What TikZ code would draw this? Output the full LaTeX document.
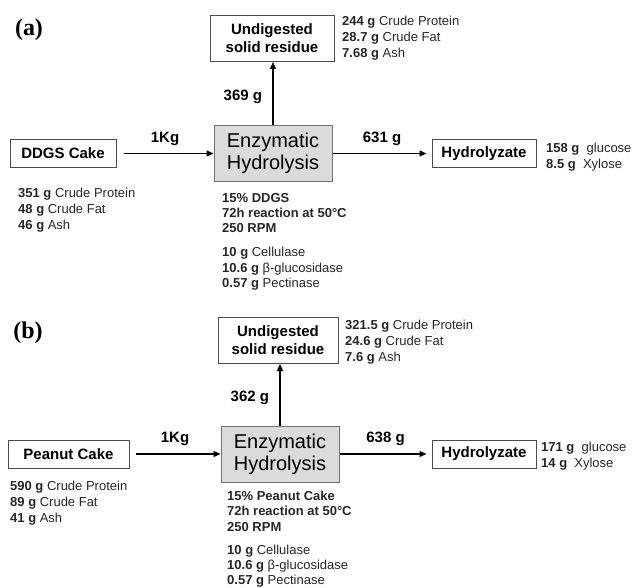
\documentclass[tikz,border=0pt]{standalone}
\usepackage{fontspec}
\setmainfont{Liberation Sans}
\newfontfamily\panelfont{Liberation Serif}
\usetikzlibrary{arrows.meta,positioning}

\begin{document}
\begin{tikzpicture}[x=1pt, y=-1pt,
  box/.style={draw=black!70, line width=1pt, align=center, inner sep=2pt,
              font=\fontsize{15}{18}\selectfont\bfseries, minimum height=28pt},
  proc/.style={draw=black!55, fill=black!14, line width=1pt, align=center, inner sep=1pt,
               font=\fontsize{20}{22}\selectfont, minimum width=118pt, minimum height=56pt},
  info/.style={anchor=north west, inner sep=0pt, align=left, text=black!85,
               font=\fontsize{13}{16}\selectfont},
  cond/.style={info, font=\fontsize{13}{15.2}\selectfont},
  flow/.style={font=\fontsize{15}{18}\selectfont\bfseries},
  panel/.style={font=\panelfont\bfseries\fontsize{24}{28}\selectfont},
  arr/.style={-{Triangle[length=7pt, width=6pt]}, line width=1.2pt}]
\useasboundingbox (0,0) rectangle (632,588);

% (a) DDGS
\node[panel] (la) at (29,30) {(a)};
\node[proc] (eh1) at (273,153.5) {Enzymatic\\Hydrolysis};
\node[box, minimum width=106pt] (ddgs) at (63,153.5) {DDGS Cake};
\node[box, minimum width=124pt, minimum height=46pt] (res1) at (272,38.5) {Undigested\\solid residue};
\node[box, minimum width=104pt] (hyd1) at (484,153.5) {Hydrolyzate};
\node[info] (res1i) at (342,16) {\textbf{244 g} Crude Protein\\\textbf{28.7 g} Crude Fat\\\textbf{7.68 g} Ash};
\node[info] (ddgsi) at (18,188) {\textbf{351 g} Crude Protein\\\textbf{48 g} Crude Fat\\\textbf{46 g} Ash};
\node[info] (hyd1i) at (546,143) {\textbf{158 g}\ \ glucose\\\textbf{8.5 g}\ \ Xylose};
\node[cond] (cond1) at (222,193) {\textbf{15\% DDGS}\\\textbf{72h reaction at 50°C}\\\textbf{250 RPM}\\[9pt]
  \textbf{10 g} Cellulase\\\textbf{10.6 g} β-glucosidase\\\textbf{0.57 g} Pectinase};
\draw[arr, shorten <=7pt] (ddgs) -- node[flow, above=4pt] {1Kg} (eh1);
\draw[arr, shorten >=5pt] (eh1) -- node[flow, above=4pt] {631 g} (hyd1);
\draw[arr] (eh1.north) -- node[flow, left=7pt, pos=0.44] {369 g} (eh1.north |- res1.south);

% (b) peanut
\node[panel] (lb) at (28,333) {(b)};
\node[proc] (eh2) at (280,454) {Enzymatic\\Hydrolysis};
\node[box, minimum width=121pt] (pea) at (68.5,454) {Peanut Cake};
\node[box, minimum width=120pt, minimum height=46pt] (res2) at (278,340.5) {Undigested\\solid residue};
\node[box, minimum width=104pt] (hyd2) at (484,454) {Hydrolyzate};
\node[info] (res2i) at (345,320) {\textbf{321.5 g} Crude Protein\\\textbf{24.6 g} Crude Fat\\\textbf{7.6 g} Ash};
\node[info] (peai) at (10,481) {\textbf{590 g} Crude Protein\\\textbf{89 g} Crude Fat\\\textbf{41 g} Ash};
\node[info] (hyd2i) at (541,442) {\textbf{171 g}\ \ glucose\\\textbf{14 g}\ \ Xylose};
\node[cond] (cond2) at (227,491) {\textbf{15\% Peanut Cake}\\\textbf{72h reaction at 50°C}\\\textbf{250 RPM}\\[8pt]
  \textbf{10 g} Cellulase\\\textbf{10.6 g} β-glucosidase\\\textbf{0.57 g} Pectinase};
\draw[arr, shorten <=6pt] (pea) -- node[flow, above=4pt] {1Kg} (eh2);
\draw[arr, shorten >=5pt] (eh2) -- node[flow, above=4pt] {638 g} (hyd2);
\draw[arr] (eh2.north) -- node[flow, left=7pt, pos=0.45] {362 g} (eh2.north |- res2.south);
\end{tikzpicture}
\end{document}
